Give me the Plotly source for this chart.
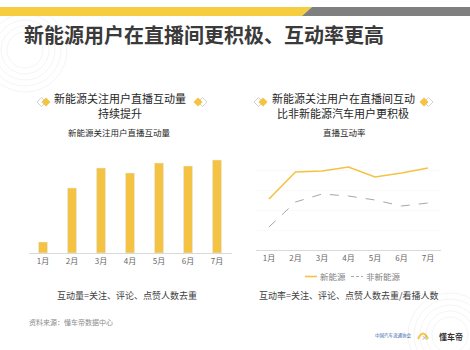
import plotly.graph_objects as go

months = ["1月", "2月", "3月", "4月", "5月", "6月", "7月"]
volume = [11, 65, 85, 80, 90, 87, 93]
rate_new = [51, 78, 79, 83, 73, 77, 82]
rate_other = [23, 48, 56, 54, 50, 44, 47]

YEL = "#F5C343"
GRAY_LINE = "#A6A6A6"
FONT = "Noto Sans CJK SC"
W, H = 470, 350

def px(x):
    return x / W

def py(y):
    return 1 - y / H

fig = go.Figure()
fig.add_trace(go.Bar(x=months, y=volume, marker_color=YEL, width=0.31,
                     xaxis="x", yaxis="y", showlegend=False))
fig.add_trace(go.Scatter(x=months, y=rate_new, mode="lines", name="新能源", showlegend=False,
                         line=dict(color=YEL, width=1.6), xaxis="x2", yaxis="y2"))
fig.add_trace(go.Scatter(x=months, y=rate_other, mode="lines", name="非新能源", showlegend=False,
                         line=dict(color=GRAY_LINE, width=1, dash="dash"), xaxis="x2", yaxis="y2"))

tickfont = dict(family=FONT, size=8, color="#666666")
fig.update_layout(
    width=W, height=H, margin=dict(l=0, r=0, t=0, b=0),
    paper_bgcolor="white", plot_bgcolor="rgba(0,0,0,0)",
    font=dict(family=FONT),
    xaxis=dict(domain=[px(28.5), px(231.5)], range=[-0.5, 6.5], type="category",
               showline=True, linecolor="#D9D9D9", linewidth=1, ticks="",
               tickfont=tickfont, showgrid=False, anchor="y"),
    yaxis=dict(domain=[py(253), py(150)], range=[0, 103], visible=False, anchor="x"),
    xaxis2=dict(domain=[px(255.75), px(441.25)], range=[-0.5, 6.5], type="category",
                showline=True, linecolor="#D9D9D9", linewidth=1, ticks="",
                tickfont=tickfont, showgrid=False, anchor="y2"),
    yaxis2=dict(domain=[py(250), py(150)], range=[0, 100], showgrid=True,
                gridcolor="#FAFAFA", dtick=20, showticklabels=False, zeroline=False,
                anchor="x2"),
    showlegend=False,
)

shapes = []
# watermark circles
for r in [18, 24, 30, 36, 42]:
    shapes.append(dict(type="circle", xref="paper", yref="paper", layer="below",
                       x0=px(25 - r), x1=px(25 + r), y0=py(50 + r), y1=py(50 - r),
                       line=dict(color="#F1F1F1", width=0.8)))
    shapes.append(dict(type="circle", xref="paper", yref="paper", layer="below",
                       x0=px(450 - r), x1=px(450 + r), y0=py(335 + r), y1=py(335 - r),
                       line=dict(color="#F1F1F1", width=0.8)))
# top band
shapes.append(dict(type="path", xref="paper", yref="paper", layer="above",
                   path=f"M 0 {py(7)} L {px(312)} {py(7)} L {px(302)} {py(16)} L 0 {py(16)} Z",
                   fillcolor="#F5CD3F", line=dict(width=0)))
shapes.append(dict(type="path", xref="paper", yref="paper", layer="above",
                   path=f"M {px(312)} {py(7)} L 1 {py(7)} L 1 {py(16)} L {px(302)} {py(16)} Z",
                   fillcolor="#7F7F7F", line=dict(width=0)))

def diamond(cx, cy, outline_first):
    out = []
    s = 4.5
    ox = cx - 2.5 if outline_first else cx + 2.5
    fx = cx + 2.0 if outline_first else cx - 2.0
    out.append(dict(type="path", xref="paper", yref="paper",
                    path=f"M {px(ox - s)} {py(cy)} L {px(ox)} {py(cy - s)} L {px(ox + s)} {py(cy)} L {px(ox)} {py(cy + s)} Z",
                    fillcolor="white", line=dict(color="#C8C8C8", width=0.8)))
    out.append(dict(type="path", xref="paper", yref="paper",
                    path=f"M {px(fx - s)} {py(cy)} L {px(fx)} {py(cy - s)} L {px(fx + s)} {py(cy)} L {px(fx)} {py(cy + s)} Z",
                    fillcolor=YEL, line=dict(width=0)))
    return out

shapes += diamond(44, 102, True)
shapes += diamond(200, 102, False)
shapes += diamond(261, 102, True)
shapes += diamond(426, 102, False)
# logo arch
shapes.append(dict(type="path", xref="paper", yref="paper",
                   path=f"M {px(418)} {py(339)} Q {px(423)} {py(328)} {px(428)} {py(339)}",
                   line=dict(color=YEL, width=2)))
# legend line samples
shapes.append(dict(type="line", xref="paper", yref="paper", x0=px(305), x1=px(317),
                   y0=py(276.5), y1=py(276.5), line=dict(color=YEL, width=1.6)))
shapes.append(dict(type="line", xref="paper", yref="paper", x0=px(351), x1=px(363),
                   y0=py(276.5), y1=py(276.5), line=dict(color=GRAY_LINE, width=1, dash="3px,2px")))
fig.update_layout(shapes=shapes)

def ann(x, y, text, size, color, bold=False, xanchor="center"):
    fig.add_annotation(x=px(x), y=py(y), xref="paper", yref="paper", text=f"<b>{text}</b>" if bold else text,
                       showarrow=False, xanchor=xanchor, yanchor="middle",
                       font=dict(family=FONT, size=size, color=color))

ann(22, 34, "新能源用户在直播间更积极、互动率更高", 20, "#3A3A3A", bold=True, xanchor="left")
ann(120, 98, "新能源关注用户直播互动量", 11, "#262626")
ann(120, 113, "持续提升", 11, "#262626")
ann(120, 132, "新能源关注用户直播互动量", 8.5, "#262626")
ann(343, 98, "新能源关注用户在直播间互动", 11, "#262626")
ann(343, 113, "比非新能源汽车用户更积极", 11, "#262626")
ann(344, 132, "直播互动率", 8.5, "#262626")
ann(318, 276, "新能源", 8.5, "#7F7F7F", xanchor="left")
ann(364, 276, "非新能源", 8.5, "#7F7F7F", xanchor="left")
ann(127, 295, "互动量=关注、评论、点赞人数去重", 9, "#404040")
ann(349, 295, "互动率=关注、评论、点赞人数去重/看播人数", 9, "#404040")
ann(27, 322, "资料来源：懂车帝数据中心", 7, "#8C8C8C", xanchor="left")
ann(393, 335, "中国汽车流通协会", 4.5, "#2F5FA8")
ann(424, 337, "×", 7, "#8C8C8C")
ann(451, 336, "<b>懂车帝</b>", 8, "#333333")

fig.write_html("out.html")
